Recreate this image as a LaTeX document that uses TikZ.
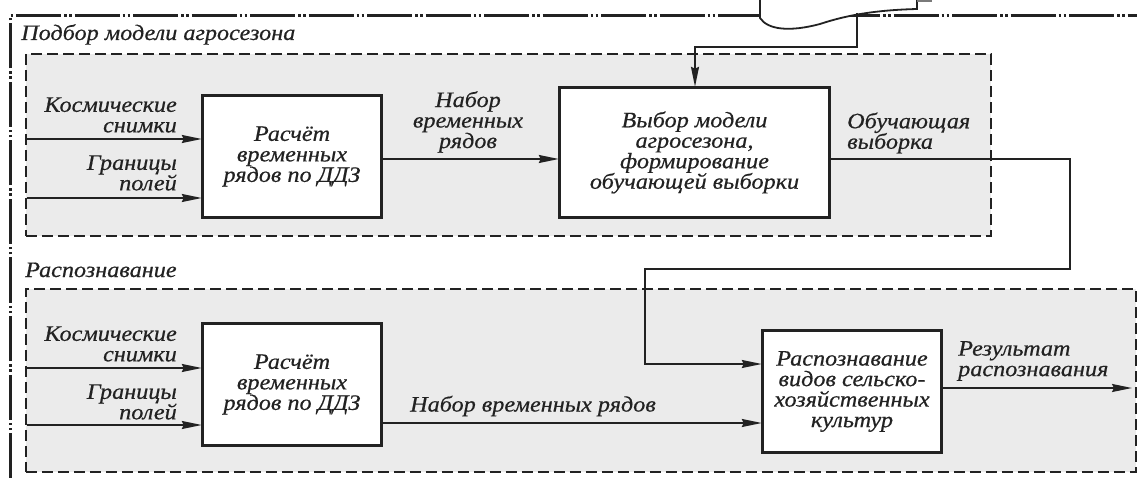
\documentclass[tikz,border=0pt]{standalone}
\usepackage{fontspec}
\setmainfont{Liberation Serif}[ItalicFont={Liberation Serif Italic}, ItalicFeatures={FakeStretch=1.1, FakeBold=0.5}]
\usetikzlibrary{arrows.meta}
\definecolor{panelgray}{HTML}{EBEBEB}
\definecolor{ink}{HTML}{222222}
\tikzset{
  panel/.style={draw=ink, fill=panelgray, line width=1.7pt, dash pattern=on 11pt off 5pt},
  procbox/.style={draw=ink, fill=white, line width=2.4pt, align=center, inner sep=0pt},
  arr/.style={draw=ink, line width=1.8pt, -{Stealth[length=20pt,width=8pt,inset=2pt]}},
  framestyle/.style={draw=ink, line width=3pt, dash pattern=on 45pt off 3pt on 2.5pt off 2.5pt on 2.5pt off 3pt},
  lbl/.style={font=\fontsize{22}{20.5}\selectfont\itshape, text=ink, inner sep=0pt},
}
\begin{document}
\begin{tikzpicture}[x=1pt,y=-1pt]
\useasboundingbox (0,0) rectangle (1137,478);
% frame
\coordinate (fbl) at (10,478);
\coordinate (fc) at (10,16);
\coordinate (ftr) at (1137,16);
\draw[framestyle] (fbl) -- (fc) -- (ftr);
% document shape
\path[draw=ink, fill=white, line width=1.8pt] (760,-2) -- (760,18) .. controls (768,30) and (790,32) .. (820,24) .. controls (850,14) and (880,10) .. (917,9) -- (917,-2);
\draw[draw=ink!60, line width=1.8pt] (917,1) -- (932,1);
\coordinate (docout) at (857,13);
% panels
\node[panel, inner sep=0pt, minimum width=965pt, minimum height=182pt, anchor=north west] (P1) at (25,53) {};
\node[panel, inner sep=0pt, minimum width=1110pt, minimum height=183pt, anchor=north west] (P2) at (25,288) {};
% headings
\node[lbl, anchor=base west] (h1) at (21,40) {Подбор модели агросезона};
\node[lbl, anchor=base west] (h2) at (25,277) {Распознавание};
% boxes
\node[procbox, minimum width=178pt, minimum height=121pt, lbl] (A1) at (292,156.5) {Расчёт\\временных\\рядов по ДДЗ};
\node[procbox, minimum width=269pt, minimum height=129pt, lbl] (B1) at (694.5,152.5) {Выбор модели\\агросезона,\\формирование\\обучающей выборки};
\node[procbox, minimum width=178pt, minimum height=121pt, lbl] (A2) at (292,384.5) {Расчёт\\временных\\рядов по ДДЗ};
\node[procbox, minimum width=178pt, minimum height=121pt, lbl] (C2) at (852,391.5) {Распознавание\\видов сельско-\\хозяйственных\\культур};
\foreach \n in {A1,B1,A2,C2} {\draw[draw=ink, line width=2.4pt] (\n.north west) rectangle (\n.south east);}
% inputs group 1
\coordinate (s1a) at (27,139);
\coordinate (s1b) at (27,198);
\draw[arr] (s1a) -- (s1a -| A1.west);
\draw[arr] (s1b) -- (s1b -| A1.west);
\node[lbl, align=right, anchor=east] (l1a) at (177,115) {Космические\\снимки};
\node[lbl, align=right, anchor=east] (l1b) at (177,173) {Границы\\полей};
% A1 -> B1
\coordinate (m1) at (381,159);
\draw[arr] (m1 -| A1.east) -- (m1 -| B1.west);
\node[lbl, align=center] (l1c) at (468,122) {Набор\\временных\\рядов};
% doc -> B1
\coordinate (dk1) at (857,47);
\coordinate (dk2) at (695,47);
\draw[arr] (docout) -- (dk1) -- (dk2) -- (dk2 |- B1.north);
% B1 -> C2
\coordinate (r1) at (1070,159);
\coordinate (r2) at (1070,269);
\coordinate (r3) at (645,269);
\coordinate (r4) at (645,364);
\draw[arr] (r1 -| B1.east) -- (r1) -- (r2) -- (r3) -- (r4) -- (r4 -| C2.west);
\node[lbl, align=left, anchor=west] (l1d) at (847,133) {Обучающая\\выборка};
% inputs group 2
\coordinate (s2a) at (27,368);
\coordinate (s2b) at (27,425);
\draw[arr] (s2a) -- (s2a -| A2.west);
\draw[arr] (s2b) -- (s2b -| A2.west);
\node[lbl, align=right, anchor=east] (l2a) at (177,344) {Космические\\снимки};
\node[lbl, align=right, anchor=east] (l2b) at (177,402) {Границы\\полей};
% A2 -> C2
\coordinate (m2) at (381,423);
\draw[arr] (m2 -| A2.east) -- (m2 -| C2.west);
\node[lbl] (l2c) at (533,406) {Набор временных рядов};
% C2 -> out
\coordinate (o2) at (1132,388);
\draw[arr] (o2 -| C2.east) -- (o2);
\node[lbl, align=left, anchor=west] (l2d) at (958,361) {Результат\\распознавания};
\end{tikzpicture}
\end{document}
